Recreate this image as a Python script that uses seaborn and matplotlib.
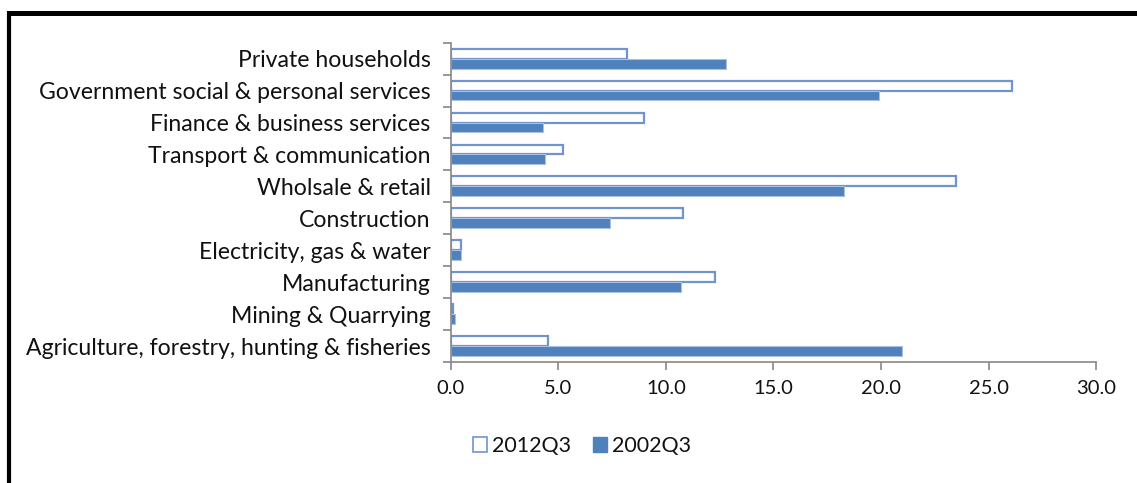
import matplotlib
matplotlib.use("Agg")
import matplotlib.pyplot as plt
import seaborn as sns
import pandas as pd
import numpy as np
from matplotlib.patches import Patch
from matplotlib.lines import Line2D

categories = [
    "Private households",
    "Government social & personal services",
    "Finance & business services",
    "Transport & communication",
    "Wholsale & retail",
    "Construction",
    "Electricity, gas & water",
    "Manufacturing",
    "Mining & Quarrying",
    "Agriculture, forestry, hunting & fisheries",
]
series_names = ["2012Q3", "2002Q3"]
values_2012 = [8.2, 26.1, 9.0, 5.2, 23.5, 10.8, 0.5, 12.3, 0.1, 4.5]
values_2002 = [12.8, 19.9, 4.3, 4.4, 18.3, 7.4, 0.5, 10.7, 0.2, 21.0]
x_ticks = [0, 5, 10, 15, 20, 25, 30]
x_tick_labels = ["0.0", "5.0", "10.0", "15.0", "20.0", "25.0", "30.0"]

df = pd.DataFrame({
    "Industry": categories * 2,
    "Period": [series_names[0]] * len(categories) + [series_names[1]] * len(categories),
    "Value": values_2012 + values_2002,
})

sns.set_style("white")
plt.rcParams["font.family"] = ["Lato", "DejaVu Sans"]

BLUE = "#4F81BD"
fig = plt.figure(figsize=(11.37, 4.83), dpi=100)
ax = fig.add_axes([0.3964, 0.2505, 0.5676, 0.6611])

sns.barplot(data=df, y="Industry", x="Value", hue="Period", order=categories,
            hue_order=series_names, palette=[BLUE, BLUE], orient="h",
            width=0.62, ax=ax, legend=False, saturation=1)

for p in ax.containers[0]:
    p.set_facecolor("white")
    p.set_edgecolor("#6F95CC")
    p.set_linewidth(1.6)
for p in ax.containers[1]:
    p.set_facecolor(BLUE)
    p.set_edgecolor("#A9C0E0")
    p.set_linewidth(0.8)

ax.set_xlim(0, 30)
ax.set_ylim(len(categories) - 0.5, -0.5)
ax.set_xticks(x_ticks)
ax.set_xticklabels(x_tick_labels, fontsize=14.5, color="#111111")
ax.set_yticks(range(len(categories)))
ax.set_yticklabels(categories, fontsize=16.6, color="#111111")
ax.set_yticks(np.arange(-0.5, len(categories), 1.0), minor=True)
ax.tick_params(axis="y", which="major", length=0, pad=14.5)
ax.tick_params(axis="y", which="minor", length=6, width=1.2, color="#888888", direction="out", left=True)
ax.tick_params(axis="x", which="major", length=6, width=1.2, color="#888888", direction="out", bottom=True, pad=7)
ax.set_xlabel("")
ax.set_ylabel("")
for s in ["top", "right"]:
    ax.spines[s].set_visible(False)
for s in ["left", "bottom"]:
    ax.spines[s].set_color("#888888")
    ax.spines[s].set_linewidth(1.2)

handles = [
    Patch(facecolor="white", edgecolor="#6F95CC", linewidth=1.2, label=series_names[0]),
    Patch(facecolor=BLUE, edgecolor=BLUE, label=series_names[1]),
]
fig.legend(handles=handles, loc="center", bbox_to_anchor=(582 / 1137, 0.0766),
           ncol=2, frameon=False, fontsize=15.5, handlelength=0.65, handleheight=0.65,
           handletextpad=0.25, columnspacing=1.0, labelcolor="#111111")

# frame lines (top and left)
fig.add_artist(Line2D([8.5 / 1137, 1.0], [1 - 13 / 483, 1 - 13 / 483], color="black",
                      linewidth=3.6, transform=fig.transFigure, solid_capstyle="butt"))
fig.add_artist(Line2D([8.5 / 1137, 8.5 / 1137], [1 - 11 / 483, 0.0], color="black",
                      linewidth=3.0, transform=fig.transFigure, solid_capstyle="butt"))

fig.savefig("out.png", dpi=100)
